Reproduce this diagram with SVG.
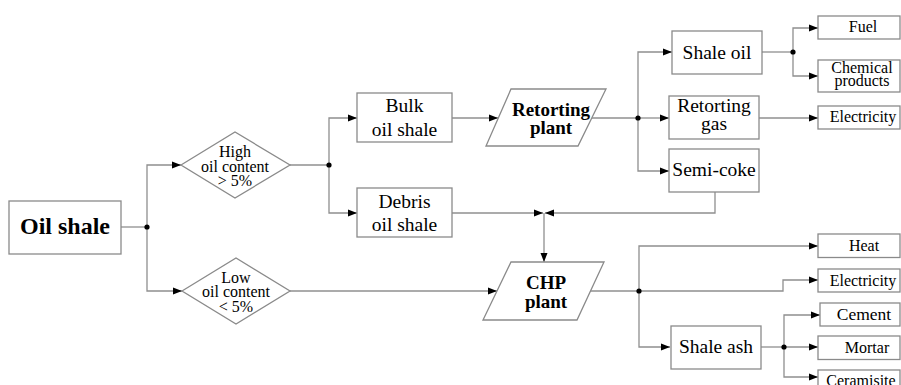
<svg xmlns="http://www.w3.org/2000/svg" width="901" height="385" viewBox="0 0 901 385">
<defs>
<marker id="ah" markerUnits="userSpaceOnUse" markerWidth="10" markerHeight="8" refX="9" refY="4" orient="auto">
<path d="M0,0.5 L9,4 L0,7.5 z" fill="#000"/>
</marker>
<style>
.box{fill:#fff;stroke:#8a8a8a;stroke-width:1.3}
.ln{fill:none;stroke:#8f8f8f;stroke-width:1.3}
.ar{marker-end:url(#ah)}
.dot{fill:#000}
text{font-family:'Liberation Serif','DejaVu Serif',serif;fill:#000;text-anchor:middle}
.t19{font-size:19.5px}
.t16{font-size:16px}
.b{font-weight:bold}
</style>
</defs>
<rect width="901" height="385" fill="#fff"/>
<g id="connectors">
<path class="ln" d="M121,227 H147"/>
<path class="ln ar" d="M147,227 V165 H181"/>
<path class="ln ar" d="M147,227 V291 H182"/>
<path class="ln" d="M290,165 H329"/>
<path class="ln ar" d="M329,165 V118 H357"/>
<path class="ln ar" d="M329,165 V213 H357"/>
<path class="ln ar" d="M452,118 H498"/>
<path class="ln" d="M592,118 H638"/>
<path class="ln ar" d="M638,118 V52 H672"/>
<path class="ln ar" d="M638,118 H669"/>
<path class="ln ar" d="M638,118 V171 H669"/>
<path class="ln" d="M762,52 H793"/>
<path class="ln ar" d="M793,52 V28 H818"/>
<path class="ln ar" d="M793,52 V76 H818"/>
<path class="ln ar" d="M759,118 H818"/>
<path class="ln ar" d="M452,213 H543"/>
<path class="ln ar" d="M715,192 V213 H545"/>
<path class="ln ar" d="M544,213 V262"/>
<path class="ln ar" d="M290,291 H497"/>
<path class="ln" d="M590,291 H639"/>
<path class="ln ar" d="M639,291 V246 H818"/>
<path class="ln ar" d="M639,291 H783 V280 H818"/>
<path class="ln ar" d="M639,291 V347 H670"/>
<path class="ln" d="M761,347 H784"/>
<path class="ln ar" d="M784,347 V315 H820"/>
<path class="ln ar" d="M784,347 H818"/>
<path class="ln ar" d="M784,347 V377 H818"/>
<circle class="dot" cx="147" cy="227" r="2.6"/>
<circle class="dot" cx="329" cy="165" r="2.6"/>
<circle class="dot" cx="638" cy="118" r="2.6"/>
<circle class="dot" cx="793" cy="52" r="2.6"/>
<circle class="dot" cx="639" cy="291" r="2.6"/>
<circle class="dot" cx="784" cy="347" r="2.6"/>
</g>
<g id="oil-shale">
<rect class="box" x="9" y="201" width="112" height="53"/>
<text class="b" x="65" y="234" font-size="24">Oil shale</text>
</g>
<g id="high">
<polygon class="box" points="181,165 235,132 290,165 235,198"/>
<text class="t16"><tspan x="235" y="157">High</tspan><tspan x="235" y="171.5">oil content</tspan><tspan x="235" y="186">&gt; 5%</tspan></text>
</g>
<g id="low">
<polygon class="box" points="182,291 236,258 290,291 236,324"/>
<text class="t16"><tspan x="236" y="282.5">Low</tspan><tspan x="236" y="297">oil content</tspan><tspan x="236" y="312">&lt; 5%</tspan></text>
</g>
<g id="bulk">
<rect class="box" x="357" y="93" width="95" height="49"/>
<text class="t19"><tspan x="404.5" y="112">Bulk</tspan><tspan x="404.5" y="135.5">oil shale</tspan></text>
</g>
<g id="debris">
<rect class="box" x="357" y="188" width="95" height="49"/>
<text class="t19"><tspan x="404.5" y="207.5">Debris</tspan><tspan x="404.5" y="230.5">oil shale</tspan></text>
</g>
<g id="retorting-plant">
<polygon class="box" points="511,89 606,89 578,146 486,146"/>
<text class="b" font-size="19px"><tspan x="551" y="115.5">Retorting</tspan><tspan x="551" y="134">plant</tspan></text>
</g>
<g id="chp-plant">
<polygon class="box" points="511,262 604,262 577,320 483,320"/>
<text class="b" font-size="19px"><tspan x="546" y="289">CHP</tspan><tspan x="546" y="308">plant</tspan></text>
</g>
<g id="shale-oil">
<rect class="box" x="672" y="31" width="90" height="43"/>
<text class="t19" x="717" y="58.5">Shale oil</text>
</g>
<g id="retorting-gas">
<rect class="box" x="669" y="96" width="90" height="43"/>
<text class="t19"><tspan x="714" y="112">Retorting</tspan><tspan x="714" y="130">gas</tspan></text>
</g>
<g id="semi-coke">
<rect class="box" x="669" y="149" width="90" height="43"/>
<text class="t19" x="714" y="176">Semi-coke</text>
</g>
<g id="shale-ash">
<rect class="box" x="671" y="326" width="90" height="43"/>
<text class="t19" x="716" y="353">Shale ash</text>
</g>
<g id="fuel">
<rect class="box" x="818" y="16" width="82" height="23"/>
<text class="t16" x="863" y="32">Fuel</text>
</g>
<g id="chemical-products">
<rect class="box" x="818" y="60" width="82" height="32"/>
<text class="t16"><tspan x="862" y="73">Chemical</tspan><tspan x="862" y="85.5">products</tspan></text>
</g>
<g id="electricity-1">
<rect class="box" x="818" y="106" width="82" height="23"/>
<text class="t16" x="863" y="121.5">Electricity</text>
</g>
<g id="heat">
<rect class="box" x="818" y="234" width="82" height="23.5"/>
<text class="t16" x="864" y="250.5">Heat</text>
</g>
<g id="electricity-2">
<rect class="box" x="818" y="269" width="82" height="23"/>
<text class="t16" x="863" y="285.5">Electricity</text>
</g>
<g id="cement">
<rect class="box" x="820" y="303" width="80" height="23"/>
<text x="864" y="320" font-size="17.5px">Cement</text>
</g>
<g id="mortar">
<rect class="box" x="818" y="336" width="82" height="23.5"/>
<text class="t16" x="867" y="353">Mortar</text>
</g>
<g id="ceramisite">
<rect class="box" x="818" y="370" width="82" height="23"/>
<text class="t16" x="861" y="386">Ceramisite</text>
</g>
</svg>
